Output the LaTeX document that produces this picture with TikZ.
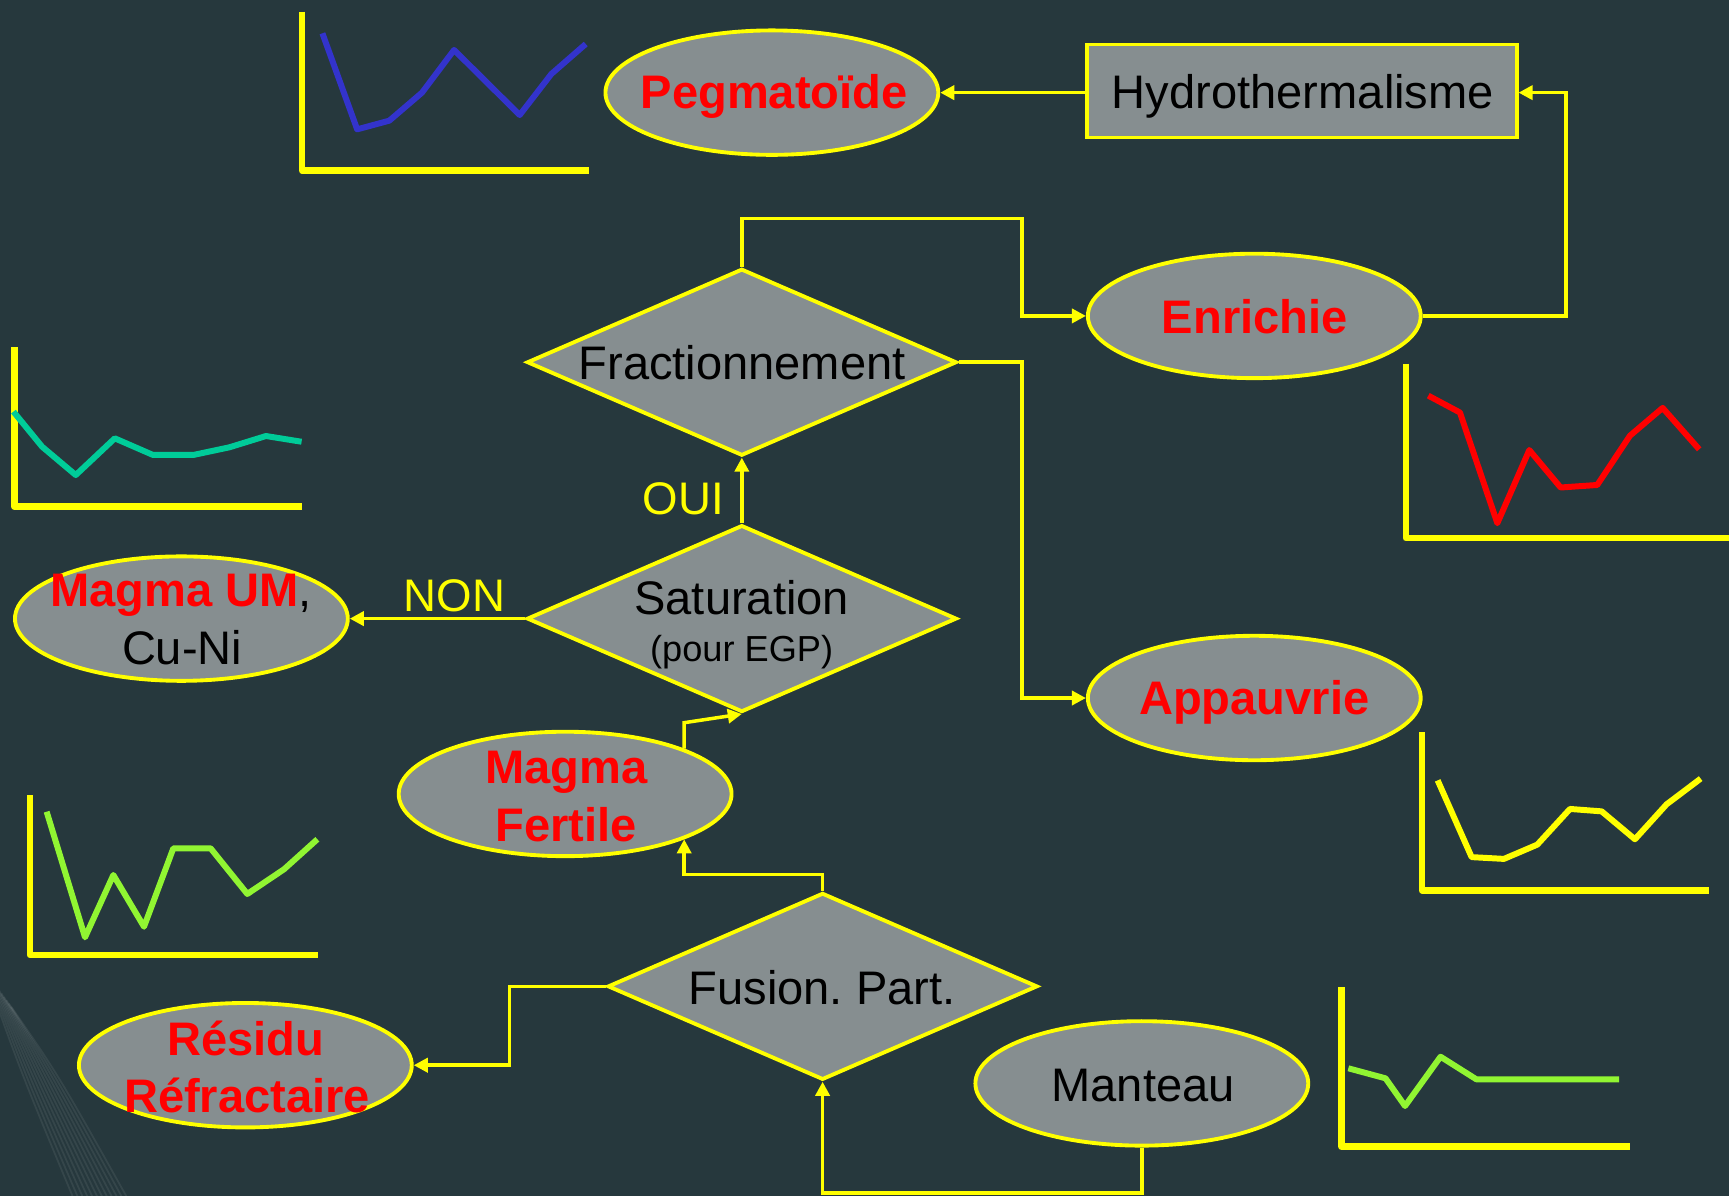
\documentclass[tikz,border=0pt]{standalone}
\usepackage{fontspec}
\setmainfont{Liberation Sans}
\usetikzlibrary{shapes.geometric,arrows.meta}
\definecolor{bg}{RGB}{38,56,61}
\definecolor{fillg}{RGB}{134,142,144}
\definecolor{yel}{RGB}{255,255,0}
\definecolor{rd}{RGB}{255,0,0}
\definecolor{bl}{RGB}{51,51,204}
\definecolor{tl}{RGB}{0,204,153}
\definecolor{lm}{RGB}{145,245,50}
\begin{document}
\frenchspacing
\begin{tikzpicture}[x=0.011027cm,y=-0.011027cm,
  ell/.style={ellipse, draw=yel, fill=fillg, line width=1.1pt, minimum width=3.33cm, minimum height=1.245cm, inner sep=0pt},
  dia/.style={diamond, draw=yel, fill=fillg, line width=1.1pt, minimum width=4.30cm, minimum height=1.87cm, inner sep=0pt},
  box/.style={rectangle, draw=yel, fill=fillg, line width=1.1pt, minimum width=4.30cm, minimum height=0.93cm, inner sep=0pt},
  lbl/.style={font=\fontsize{13.4}{16}\selectfont, text=black, inner sep=0pt, anchor=base},
  rlbl/.style={lbl, font=\fontsize{13.4}{16}\selectfont\bfseries, text=rd},
  small/.style={lbl, font=\fontsize{10.3}{12}\selectfont},
  ylbl/.style={lbl, font=\fontsize{13}{16}\selectfont, text=yel},
  conn/.style={draw=yel, line width=1pt, -{Triangle[length=4pt,width=4pt]}},
  axis/.style={draw=yel, line width=1.9pt, line join=round},
  data/.style={line width=1.7pt, line join=round}]
\useasboundingbox (0,0) rectangle (1568,1085);
\fill[bg] (0,0) rectangle (1568,1085);
% faint decorative lines (lower left)
\foreach \i in {0,...,11}
  \draw[white, opacity=0.07, line width=0.5pt] (-14+\i*2.2, 880+\i*3) .. controls (20+\i*3, 975) .. (68+\i*4.5, 1090);

% charts
\draw[axis] (274,10.6) -- (274,154.8) -- (534,154.8);
\draw[data, bl] (292.4,30.2) -- (323.9,117.3) -- (353.1,109.4) -- (382.7,84) -- (411.8,45.3) -- (471.3,104.3) -- (500,67.1) -- (531.2,39.9);

\draw[axis] (12.9,315) -- (12.9,459.5) -- (273.5,459.5);
\draw[data, tl] (12.2,373.3) -- (38.2,405.1) -- (68.7,430.8) -- (104.1,397.5) -- (138.8,412.6) -- (175.3,412.6) -- (208.2,405.6) -- (241.2,395.4) -- (273.5,400.6);

\draw[axis] (1275,329.7) -- (1275,488) -- (1575,488);
\draw[data, rd] (1295.3,358.8) -- (1324,374.1) -- (1357.9,474.5) -- (1386.9,408.1) -- (1415.3,442.1) -- (1448.5,439.8) -- (1478.2,395.1) -- (1507.8,369.9) -- (1541,407.5);

\draw[axis] (1289.6,664) -- (1289.6,807.4) -- (1550,807.4);
\draw[data, yel] (1303.8,707.7) -- (1334.6,777.3) -- (1363.9,778.9) -- (1394.1,766) -- (1423.8,733.6) -- (1452.5,735.8) -- (1482.7,761.1) -- (1511.4,729.4) -- (1542.3,706.1);

\draw[axis] (27.2,721) -- (27.2,866) -- (288.7,866);
\draw[data, lm] (42.3,736.1) -- (77.1,850) -- (102.8,793.5) -- (130.6,840.4) -- (157.2,769.3) -- (191,769.3) -- (224.3,810.7) -- (257.6,788.3) -- (287.8,761.1);

\draw[axis] (1216.7,895.4) -- (1216.7,1039.9) -- (1478,1039.9);
\draw[data, lm] (1222.8,968.8) -- (1256.5,977.9) -- (1274.2,1003) -- (1306.4,958.3) -- (1338.9,978.8) -- (1468.4,978.8);

% shapes
\node[ell] (peg) at (700,84) {};
\node[box] (hyd) at (1180.5,82.5) {};
\node[ell] (enr) at (1137.5,286.5) {};
\node[dia] (frac) at (672.75,328.5) {};
\node[dia] (sat) at (672.75,561) {};
\node[ell] (mum) at (164.5,561) {};
\node[ell] (app) at (1137.5,633) {};
\node[ell] (mf) at (512.5,720) {};
\node[dia] (fus) at (746,894.5) {};
\node[ell] (res) at (222.5,966) {};
\node[ell] (man) at (1035.5,982.5) {};

% texts
\node[rlbl] (peg-t) at (702,98) {Pegmatoïde};
\node[lbl] (hyd-t) at (1181.6,98.2) {Hydrothermalisme};
\node[rlbl] (enr-t) at (1138,302.3) {Enrichie};
\node[lbl] (frac-t) at (673,344) {Fractionnement};
\node[lbl] (sat-t1) at (672.6,557.7) {Saturation};
\node[small] (sat-t2) at (672.6,600) {(pour EGP)};
\node[rlbl] (mum-t1) at (164,550.2) {Magma UM\textcolor{black}{\mdseries,}};
\node[lbl] (mum-t2) at (165.2,603) {Cu-Ni};
\node[rlbl] (app-t) at (1137.5,648) {Appauvrie};
\node[rlbl] (mf-t1) at (513.6,710.4) {Magma};
\node[rlbl] (mf-t2) at (513.6,763.3) {Fertile};
\node[lbl] (fus-t) at (745.5,910.5) {Fusion. Part.};
\node[rlbl] (res-t1) at (222.9,957.6) {Résidu};
\node[rlbl] (res-t2) at (224,1009) {Réfractaire};
\node[lbl] (man-t) at (1036.6,999) {Manteau};

% bend coordinates
\coordinate (bA) at (1420,84);
\coordinate (bB) at (927,198);
\coordinate (bC) at (927,420);
\coordinate (bD) at (619.7,655.4);
\coordinate (yE) at (0,793);
\coordinate (bF) at (462,930);
\coordinate (bG) at (900,1082);

% connectors
\draw[conn] (hyd.west |- peg.east) -- (peg.east);
\draw[conn] (enr.east) -| (bA) -- (hyd.east |- bA);
\draw[conn] (frac.north) |- (bB) |- (enr.west);
\draw[conn] (frac.east) -| (bC) |- (app.west);
\draw[conn] (sat.north) -- (frac.south);
\draw[conn] (sat.west) -- (mum.east);
\draw[conn] (mf.north east) -- (mf.north east |- bD) -- (sat.south);
\draw[conn] (fus.north) |- (mf.south east |- yE) -- (mf.south east);
\draw[conn] (fus.west) -| (bF) |- (res.east);
\draw[conn] (man.south) |- (bG) -| (fus.south);

% branch labels
\node[ylbl] (oui) at (619.5,467) {OUI};
\node[ylbl] (non) at (412.2,554.7) {NON};
\end{tikzpicture}
\end{document}
